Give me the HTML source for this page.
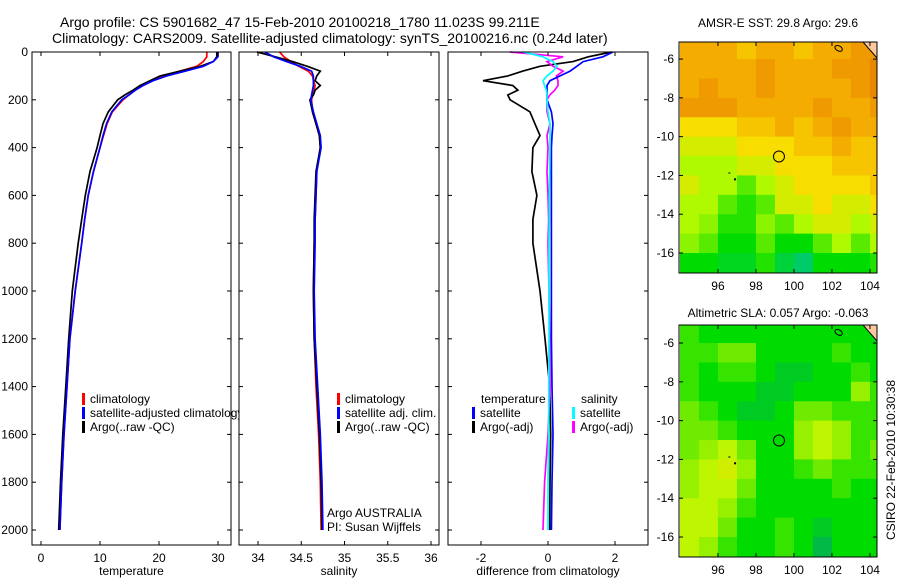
<!DOCTYPE html>
<html><head><meta charset="utf-8"><style>
body{margin:0;background:#fff;}
svg{display:block;font-family:"Liberation Sans",sans-serif;}
</style></head><body>
<svg id="c" width="900" height="580" xmlns="http://www.w3.org/2000/svg"></svg>
<script>
// ---- data ----
const depths=[0,20,40,60,80,100,120,140,160,180,200,250,300,350,400,500,600,700,800,1000,1200,1400,1600,1800,2000];
const tempClim=[28.1,28.1,27.5,26.4,23.6,21,18.8,17.2,15.9,14.9,13.9,12.1,11.2,10.6,10,8.9,8,7.4,6.9,5.8,4.9,4.4,3.9,3.5,3.2];
const tempSat=[30,30,29.2,27.5,24.5,21.3,19,17.3,16,14.9,13.7,12,11.1,10.5,10,8.9,8,7.4,6.9,5.8,4.9,4.4,3.9,3.5,3.2];
const tempArgo=[29.8,29.8,29.2,27,23.6,20.2,18.5,16.8,15.6,14.2,13,11.4,10.5,10,9.5,8.3,7.5,6.9,6.3,5.3,4.7,4.2,3.7,3.3,3.0];
const salClim=[34.25,34.3,34.38,34.47,34.58,34.63,34.64,34.66,34.65,34.63,34.62,34.63,34.67,34.71,34.72,34.68,34.67,34.66,34.65,34.64,34.65,34.67,34.70,34.72,34.73];
const salSat=[34.08,34.18,34.33,34.49,34.62,34.64,34.64,34.64,34.63,34.62,34.61,34.64,34.68,34.72,34.73,34.68,34.67,34.66,34.66,34.65,34.66,34.69,34.72,34.74,34.75];
const salArgo=[33.99,34.2,34.4,34.57,34.72,34.68,34.66,34.72,34.66,34.64,34.6,34.63,34.67,34.71,34.72,34.67,34.66,34.65,34.65,34.64,34.65,34.68,34.71,34.73,34.74];
const dTempSat=[1.94,1.64,1.05,0.86,0.66,0.36,0.06,-0.03,-0.03,-0.03,-0.03,0.1,0.15,0.12,0.1,0.1,0.1,0.1,0.1,0.1,0.1,0.12,0.15,0.12,0.1];
const dTempArgo=[1.9,1.2,0.75,-0.24,-0.75,-1.2,-1.94,-1.05,-0.9,-1.2,-1.13,-0.54,-0.39,-0.24,-0.45,-0.48,-0.33,-0.45,-0.45,-0.24,-0.09,0.05,0.08,0.06,0.05];
const dSalSat=[-0.74,-0.15,0.15,0.27,0.15,-0.03,-0.15,-0.1,-0.05,-0.03,-0.03,0,0.06,0.06,0.06,0.05,0.04,0.04,0.03,0.03,0.03,0.02,0.02,0,0];
const dSalArgo=[-1.13,0.45,-0.03,0.15,0.45,0.25,0.3,0.3,0.2,0.05,-0.03,-0.03,0.06,-0.03,0.0,-0.03,0.0,0.02,0.0,0.03,0.05,0.06,0.0,-0.1,-0.15];
const mapLons=[94.5,95.5,96.5,97.5,98.5,99.5,100.5,101.5,102.5,103.5,104.5];
const mapLats=[-5.5,-6.5,-7.5,-8.5,-9.5,-10.5,-11.5,-12.5,-13.5,-14.5,-15.5,-16.5];
const sstLevels=[
[4,4,4,3.5,4,4,3.5,4,4,4.5,4.5],
[4,4,4,4,4.5,4,4,4,4.5,4.5,5],
[4,4.5,4,4,4.5,4,4,4,4,4.5,5],
[4.5,4.5,4.5,4,4,4,4,4.5,4,4,4.5],
[3,3,3,3.5,3.5,4,3.5,4,4.5,4,4],
[2.5,2.5,2.5,3,3,3,3.5,3.5,4,3.5,3.5],
[2,2,2,2.5,2.5,3,3,3,3.5,3.5,3.5],
[2.5,2,2,1.5,2,2.5,3,3,3,3,3.5],
[2,2,1.5,1.2,1.5,2.5,2.5,3,2.5,2.5,3],
[2,1.8,1.2,1.2,1.8,1.5,2,2.5,2.5,2,2.5],
[1.8,1.5,1,1,1.5,1,1,1.5,2,1.5,2],
[1,1,0.8,0.8,1.2,0.6,0.3,1,1,1,1.2]];
const slaLevels=[
[1.5,1,1,1,1,1,1,1,1,1,0.8],
[1.5,1.5,2,2,1,1,1,1,1.5,1,1],
[1.5,1,1.5,1.5,1,0.5,0.5,1,1,1.5,1],
[1.5,1,1,1,0.5,0.5,1,1,1,2.5,1.5],
[2,1.5,1,0.5,0.5,1,2,2,1.5,1.5,1.5],
[2,2,1.5,1,1,1,2.5,3,2.5,1.5,1.5],
[2,2.5,3,2,1,1,2.5,3,2.5,1.5,2],
[2.5,3,3.5,2.5,1,1,1.5,2,1.5,1.5,1.5],
[2.5,3,3,2,1,1,1,1,1.5,1,1],
[3,3,2.5,1.5,1,1,1,1,1,1,1],
[3,3,2,1,1,1.5,1,0.5,1,1,1],
[3,2.5,1.5,1,1,1.5,1,0,1,1,1]];
const depthTicks=[0,200,400,600,800,1000,1200,1400,1600,1800,2000];
const tempTicks=[0,10,20,30];
const salTicks=["34","34.5","35","35.5","36"];
const diffTicks=[-2,0,2];
const latTicks=[-6,-8,-10,-12,-14,-16];
const lonTicks=[96,98,100,102,104];

// ---- helpers ----
const S=document.getElementById('c');const NS='http://www.w3.org/2000/svg';
function el(t,a,p){const e=document.createElementNS(NS,t);for(const k in a)e.setAttribute(k,a[k]);(p||S).appendChild(e);return e;}
function txt(x,y,s,anchor,size,p){const e=el('text',{x:x,y:y,'text-anchor':anchor||'middle','font-size':size||12,fill:'#000'},p);e.textContent=s;return e;}
const yD=d=>52+d*0.239;
const PT=52,PB=545;

function panel(name,x0,x1,xs,ticks,labels,xlabel,series,depthLabels){
  const g=el('g',{});
  
  
  el('rect',{x:x0,y:PT,width:x1-x0,height:PB-PT,fill:'#fff',stroke:'none'},g);
  series.forEach(s=>{
    const pts=depths.map((d,i)=>xs(s.v[i]).toFixed(1)+','+yD(d).toFixed(1)).join(' ');
    const pl=el('polyline',{points:pts,fill:'none',stroke:s.c,'stroke-width':1.7},g);
    
    
  });
  el('rect',{x:x0,y:PT,width:x1-x0,height:PB-PT,fill:'none',stroke:'#000','stroke-width':1},g);
  ticks.forEach((t,i)=>{const x=xs(t);
    el('line',{x1:x,y1:PB,x2:x,y2:PB-4,stroke:'#000'},g);
    el('line',{x1:x,y1:PT,x2:x,y2:PT+4,stroke:'#000'},g);
    const l=txt(x,PB+17,labels[i],'middle',12,g);
    
    });
  depthTicks.forEach(d=>{const y=yD(d);
    el('line',{x1:x0,y1:y,x2:x0+4,y2:y,stroke:'#000'},g);
    el('line',{x1:x1,y1:y,x2:x1-4,y2:y,stroke:'#000'},g);
    if(depthLabels){const l=txt(x0-4,y+4,String(d),'end',12,g);
      
      }});
  const xl=txt((x0+x1)/2,PB+30,xlabel,'middle',12,g);
  
  
  return g;
}
function legendRow(x,y,color,label,p){
  el('rect',{x:x,y:y-10,width:3,height:12,fill:color},p);
  const t=txt(x+8,y,label,'start',12,p);
  
  
}

// titles
const t1=txt(60,27,'Argo profile: CS 5901682_47 15-Feb-2010 20100218_1780 11.023S 99.211E','start',14);


const t2=txt(52,43,'Climatology: CARS2009. Satellite-adjusted climatology: synTS_20100216.nc (0.24d later)','start',14);



// panel 1 temperature
const xT=v=>41+5.9*v;
const p1=panel('temperature-panel',32,231,xT,tempTicks,tempTicks.map(String),'temperature',
 [{v:tempClim,c:'#f00',n:'temp-climatology-line'},{v:tempArgo,c:'#000',n:'temp-argo-line'},{v:tempSat,c:'#00f',n:'temp-satellite-line'}],true);
legendRow(82,403,'#f00','climatology',p1);legendRow(82,417,'#00f','satellite-adjusted climatology',p1);legendRow(82,431,'#000','Argo(..raw -QC)',p1);
// panel 2 salinity
const xS=v=>258+86.5*(v-34);
const p2=panel('salinity-panel',239,439,xS,salTicks.map(Number),salTicks,'salinity',
 [{v:salClim,c:'#f00',n:'sal-climatology-line'},{v:salArgo,c:'#000',n:'sal-argo-line'},{v:salSat,c:'#00f',n:'sal-satellite-line'}],false);
legendRow(337,403,'#f00','climatology',p2);legendRow(337,417,'#00f','satellite adj. clim.',p2);legendRow(337,431,'#000','Argo(..raw -QC)',p2);
const a1=txt(327,517,'Argo AUSTRALIA','start',12,p2);
const a2=txt(327,531,'PI: Susan Wijffels','start',12,p2);
// panel 3 difference
const xDf=v=>548+33.5*v;
const p3=panel('difference-panel',448,648,xDf,diffTicks,diffTicks.map(String),'difference from climatology',
 [{v:dTempArgo,c:'#000',n:'diff-temp-argo-line'},{v:dSalArgo,c:'#f0f',n:'diff-sal-argo-line'},{v:dTempSat,c:'#00f',n:'diff-temp-satellite-line'},{v:dSalSat,c:'#0ff',n:'diff-sal-satellite-line'}],false);
txt(481,403,'temperature','start',12,p3);txt(581,403,'salinity','start',12,p3);
legendRow(472,417,'#00f','satellite',p3);legendRow(472,431,'#000','Argo(-adj)',p3);
legendRow(572,417,'#0ff','satellite',p3);legendRow(572,431,'#f0f','Argo(-adj)',p3);

// maps
function colSST(v){const st=[[0,[0,195,150]],[1,[0,220,0]],[2,[175,250,0]],[3,[248,222,0]],[4,[245,172,0]],[5,[232,135,0]]];return interp(st,v);}
function colSLA(v){const st=[[0,[0,185,70]],[1,[0,220,0]],[2,[110,235,0]],[3,[190,245,0]],[4,[230,230,0]]];return interp(st,v);}
function interp(st,v){for(let i=0;i<st.length-1;i++){if(v<=st[i+1][0]){const f=Math.max(0,(v-st[i][0])/(st[i+1][0]-st[i][0]));const a=st[i][1],b=st[i+1][1];return 'rgb('+a.map((c,k)=>Math.round(c+(b[k]-c)*f)).join(',')+')';}}const l=st[st.length-1][1];return 'rgb('+l.join(',')+')';}
function map(name,top,bot,latTop,grid,colf,title,titleOff){
  const x0=679,x1=877,lonMin=93.95,lonMax=104.37,latBot=-17.03;
  const xL=v=>x0+(v-lonMin)/(lonMax-lonMin)*(x1-x0);
  const yL=v=>top+(latTop-v)/(latTop-latBot)*(bot-top);
  const g=el('g',{});
  
  
  const cid='clip'+name;const cp=el('clipPath',{id:cid},g);el('rect',{x:x0,y:top,width:x1-x0,height:bot-top},cp);
  const cg=el('g',{'clip-path':'url(#'+cid+')'},g);
  mapLats.forEach((la,r)=>mapLons.forEach((lo,c)=>{
    const cell=el('rect',{x:xL(lo-0.5),y:yL(la+0.5)-(r==0?20:0),width:xL(lo+0.5)-xL(lo-0.5)+0.5,height:yL(la-0.5)-yL(la+0.5)+0.5+(r==0?20:0)+(r==mapLats.length-1?10:0),fill:colf(grid[r][c])},cg);
    
    
  }));
  el('polygon',{points:(x1-14)+','+top+' '+x1+','+top+' '+x1+','+(top+16),fill:'#fcc89b',stroke:'#000','stroke-width':1},cg);
  el('ellipse',{cx:xL(102.35),cy:yL(-5.45),rx:4,ry:2.5,fill:'none',stroke:'#000',transform:'rotate(30 '+xL(102.35)+' '+yL(-5.45)+')'},cg);
  el('rect',{x:xL(96.6)-1,y:yL(-11.85),width:2,height:1,fill:'#000'},cg);
  el('rect',{x:xL(96.9)-1,y:yL(-12.2)-1,width:2,height:2,fill:'#000'},cg);
  const m=el('circle',{cx:xL(99.211),cy:yL(-11.023),r:5.5,fill:'none',stroke:'#000'},g);
  
  
  el('rect',{x:x0,y:top,width:x1-x0,height:bot-top,fill:'none',stroke:'#000'},g);
  latTicks.forEach(la=>{const y=yL(la);el('line',{x1:x0,y1:y,x2:x0+4,y2:y,stroke:'#000'},g);el('line',{x1:x1,y1:y,x2:x1-4,y2:y,stroke:'#000'},g);
    const l=txt(x0-5,y+4,String(la),'end',12,g);});
  lonTicks.forEach(lo=>{const x=xL(lo);el('line',{x1:x,y1:top,x2:x,y2:top+4,stroke:'#000'},g);el('line',{x1:x,y1:bot,x2:x,y2:bot-4,stroke:'#000'},g);
    const l=txt(x,bot+17,String(lo),'middle',12,g);});
  const tt=txt((x0+x1)/2,top-titleOff,title,'middle',12,g);
}
map('sst-map',42,273,-5.12,sstLevels,colSST,'AMSR-E SST: 29.8 Argo: 29.6',15);
map('sla-map',325,557,-5.07,slaLevels,colSLA,'Altimetric SLA: 0.057 Argo: -0.063',8);
const st=txt(0,0,'CSIRO 22-Feb-2010 10:30:38','middle',12);
st.setAttribute('transform','translate(895,460) rotate(-90)');


</script>
</body></html>
